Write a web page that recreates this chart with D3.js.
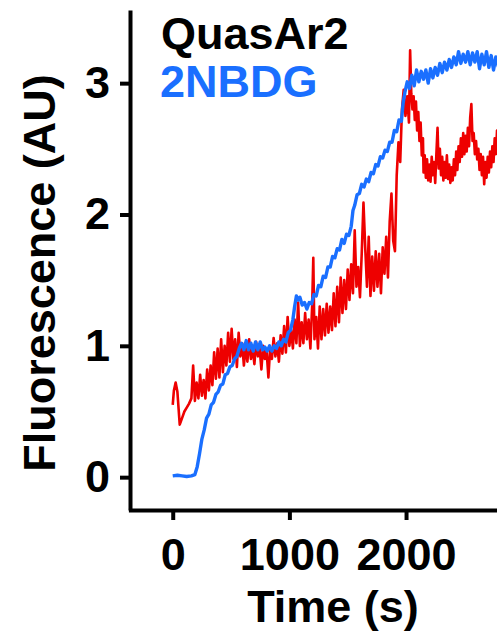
<!DOCTYPE html>
<html>
<head>
<meta charset="utf-8">
<script src="https://cdn.jsdelivr.net/npm/d3@7"></script>
<style>
  html, body { margin: 0; padding: 0; background: #fff; overflow: hidden; }
  svg { display: block; }
  text { font-family: "Liberation Sans", Arial, sans-serif; font-weight: bold; }
</style>
</head>
<body>
<script>
// ---------------- data ----------------
const xTicks = [0, 1000, 2000];
const yTicks = [0, 1, 2, 3];
const seriesNames = ["QuasAr2", "2NBDG"];
const seriesColors = ["#000000", "#1a6fff"];

// QuasAr2 (red trace): time (s) and fluorescence (AU)
const redTime = [0,10,25,40,60,80,100,120,140,160,175,190,205,220,235,250,265,280,295,310,325,340,355,370,385,400,415,430,445,460,475,490,505,520,535,550,565,580,595,610,625,640,655,670,685,700,715,730,745,760,775,790,805,820,835,850,865,880,895,910,925,940,955,970,985,1000,1015,1030,1045,1060,1075,1090,1105,1120,1135,1150,1165,1180,1195,1205,1215,1230,1245,1260,1275,1290,1305,1320,1335,1350,1365,1380,1395,1410,1425,1440,1455,1470,1485,1500,1515,1530,1545,1560,1575,1590,1605,1620,1635,1650,1665,1680,1695,1710,1725,1740,1755,1770,1785,1800,1815,1830,1845,1860,1875,1890,1905,1920,1935,1950,1965,1980,1995,2010,2025,2035,2045,2055,2065,2075,2085,2095,2105,2115,2125,2135,2145,2150,2160,2170,2180,2190,2200,2210,2220,2230,2240,2250,2260,2270,2280,2290,2300,2310,2320,2330,2340,2350,2360,2370,2380,2390,2400,2410,2420,2430,2440,2450,2460,2470,2480,2490,2500,2510,2520,2530,2540,2550,2560,2570,2580,2590,2600,2610,2620,2630,2640,2650,2660,2670,2680,2690,2700,2710,2720,2730,2740,2750,2760,2770,2780,2790,2800,2810,2820];
const redValue = [0.55,0.66,0.72,0.65,0.40,0.45,0.50,0.53,0.56,0.60,0.85,0.58,0.72,0.60,0.78,0.62,0.74,0.60,0.82,0.66,0.85,0.70,0.95,0.75,0.98,0.76,1.05,0.80,1.00,0.85,1.10,0.88,1.13,0.90,1.05,0.84,1.10,0.92,1.02,0.85,1.00,0.88,1.05,0.90,0.98,0.86,1.03,0.92,0.98,0.82,1.00,0.90,0.96,0.76,0.98,0.90,1.06,0.92,1.02,0.88,1.08,0.94,1.15,0.95,1.22,1.00,1.12,0.98,1.20,1.02,1.33,1.00,1.18,1.02,1.25,1.05,1.20,0.98,1.30,1.67,1.05,1.22,0.98,1.30,1.05,1.28,1.08,1.32,1.10,1.30,1.12,1.40,1.15,1.45,1.18,1.52,1.25,1.50,1.28,1.58,1.35,1.62,1.40,1.88,1.45,1.60,1.37,1.70,2.09,1.75,1.45,1.83,1.38,1.68,1.42,1.72,1.45,1.70,1.40,1.75,1.55,1.83,1.52,1.95,2.16,1.80,1.72,2.30,2.55,2.40,2.80,2.95,2.75,2.90,2.70,3.25,2.92,2.80,2.90,2.72,2.86,2.64,2.78,2.56,2.70,2.45,2.58,2.32,2.45,2.28,2.42,2.26,2.38,2.25,2.44,2.30,2.40,2.24,2.46,2.66,2.35,2.50,2.30,2.44,2.26,2.40,2.28,2.45,2.27,2.38,2.24,2.36,2.26,2.42,2.30,2.48,2.34,2.52,2.40,2.58,2.44,2.62,2.46,2.60,2.48,2.66,2.52,2.74,2.84,2.56,2.62,2.46,2.56,2.42,2.50,2.34,2.46,2.30,2.44,2.23,2.40,2.28,2.44,2.32,2.48,2.36,2.52,2.40,2.58,2.46,2.64,2.52,2.60,2.48,2.56];

// 2NBDG (blue trace): time (s) and fluorescence (AU)
const blueTime = [0,40,80,120,160,190,210,230,250,270,290,310,330,350,370,390,410,430,450,470,490,510,530,550,570,590,610,630,650,670,690,710,730,750,770,790,810,830,850,870,890,910,930,950,970,990,1010,1030,1045,1060,1075,1090,1110,1130,1150,1170,1190,1210,1230,1250,1270,1290,1310,1330,1350,1370,1390,1410,1430,1450,1470,1490,1510,1530,1545,1560,1580,1600,1620,1640,1660,1680,1700,1720,1740,1760,1780,1800,1820,1840,1860,1880,1900,1920,1940,1960,1975,1990,2010,2030,2050,2070,2090,2110,2130,2150,2170,2190,2210,2230,2250,2270,2290,2310,2330,2350,2370,2390,2410,2430,2450,2470,2490,2510,2530,2550,2570,2590,2610,2630,2650,2670,2690,2710,2730,2750,2770,2790,2810];
const blueValue = [0.01,0.015,0.01,0.005,0.01,0.02,0.08,0.18,0.29,0.36,0.45,0.48,0.55,0.57,0.63,0.65,0.70,0.71,0.78,0.79,0.84,0.85,0.90,0.92,0.98,1.02,0.97,1.04,0.97,1.02,0.96,1.03,0.97,1.03,0.97,0.99,0.96,1.00,0.96,1.00,0.98,1.03,1.00,1.05,1.03,1.10,1.12,1.20,1.30,1.38,1.35,1.37,1.31,1.33,1.28,1.33,1.32,1.39,1.38,1.46,1.45,1.53,1.52,1.60,1.60,1.68,1.67,1.74,1.73,1.81,1.78,1.85,1.84,1.91,2.03,2.07,2.15,2.16,2.23,2.21,2.27,2.25,2.32,2.31,2.38,2.37,2.44,2.43,2.49,2.48,2.55,2.55,2.64,2.63,2.72,2.71,2.85,2.93,3.01,2.96,3.06,2.98,3.10,3.01,3.09,3.03,3.10,3.00,3.11,3.04,3.12,3.06,3.15,3.08,3.16,3.10,3.18,3.12,3.20,3.14,3.24,3.15,3.22,3.16,3.24,3.14,3.23,3.16,3.24,3.11,3.22,3.14,3.24,3.12,3.21,3.10,3.20,3.13,3.21];

const xDomain = [-380, 3000];
const yDomain = [-0.25, 3.557];

// ---------------- drawing ----------------
const W = 497, H = 636;
const svg = d3.select("body").append("svg").attr("width", W).attr("height", H);

const x = d3.scaleLinear().domain(xDomain).range([128.4, 522.7]);
const y = d3.scaleLinear().domain(yDomain).range([510, 10]);

const line = d3.line().x(d => x(d[0])).y(d => y(d[1]));
const red = redTime.map((t, i) => [t, redValue[i]]);
const blue = blueTime.map((t, i) => [t, blueValue[i]]);

svg.append("path").datum(red)
  .attr("d", line).attr("fill", "none")
  .attr("stroke", "#ee0000").attr("stroke-width", 2.6).attr("stroke-linejoin", "round");
svg.append("path").datum(blue)
  .attr("d", line).attr("fill", "none")
  .attr("stroke", "#1a6fff").attr("stroke-width", 3.4).attr("stroke-linejoin", "round");

// axes
const yAxis = svg.append("g").attr("transform", "translate(130,0)")
  .call(d3.axisLeft(y).tickValues(yTicks).tickFormat(d3.format("d")).tickSize(10).tickSizeOuter(0).tickPadding(10));
const xAxis = svg.append("g").attr("transform", "translate(0,510)")
  .call(d3.axisBottom(x).tickValues(xTicks).tickFormat(d3.format("d")).tickSize(10).tickSizeOuter(0).tickPadding(18));

[yAxis, xAxis].forEach(g => {
  g.select(".domain").attr("stroke", "#000").attr("stroke-width", 4);
  g.selectAll(".tick line").attr("stroke", "#000").attr("stroke-width", 4);
  g.selectAll(".tick text").attr("fill", "#000")
    .style("font-size", "45px").style("font-family", "'Liberation Sans', Arial, sans-serif").style("font-weight", "bold");
});

// axis titles
svg.append("text").attr("x", 333).attr("y", 622).attr("text-anchor", "middle")
  .style("font-size", "45px").attr("fill", "#000").text("Time (s)");
svg.append("text").attr("transform", "translate(55,273) rotate(-90)").attr("text-anchor", "middle")
  .style("font-size", "45px").attr("fill", "#000").text("Fluorescence (AU)");

// legend
svg.append("text").attr("x", 161).attr("y", 49).style("font-size", "45px")
  .attr("fill", seriesColors[0]).text(seriesNames[0]);
svg.append("text").attr("x", 160).attr("y", 97).style("font-size", "45px")
  .attr("fill", seriesColors[1]).text(seriesNames[1]);
</script>
</body>
</html>
